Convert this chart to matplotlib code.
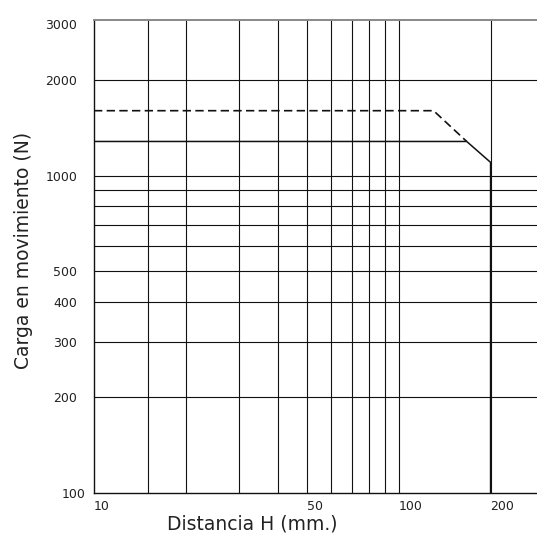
import matplotlib
matplotlib.use("Agg")
import matplotlib.pyplot as plt
from matplotlib.transforms import ScaledTranslation

# ─── data ────────────────────────────────────────────────────────────────────
# grid positions (log-log chart)
x_grid = [15, 20, 30, 40, 50, 60, 70, 80, 90, 100, 200]
y_grid = [200, 300, 400, 500, 600, 700, 800, 900, 1000, 2000]
x_ticks = [10, 50, 100, 200]
y_ticks = [100, 200, 300, 400, 500, 1000, 2000, 3000]

# load curves
dashed_x = [10, 130, 167]
dashed_y = [1600, 1600, 1280]
solid_x = [10, 167, 200, 200]
solid_y = [1280, 1280, 1100, 100]

plt.rcParams["font.family"] = ["DejaVu Sans"]

fig = plt.figure(figsize=(5.37, 5.40), dpi=100)
ax = fig.add_axes([94 / 537, 47 / 540, 443 / 537, 473.5 / 540])
ax.set_xscale("log")
ax.set_yscale("log")
ax.set_xlim(10, 284)
ax.set_ylim(100, 3100)

for xv in x_grid:
    ax.axvline(xv, color="#111111", lw=0.8, zorder=1)
for yv in y_grid:
    ax.axhline(yv, color="#111111", lw=0.8, zorder=1)

ax.plot(dashed_x, dashed_y, color="#111111", lw=1.2, dashes=(5, 2.6), zorder=3)
ax.plot(solid_x, solid_y, color="#111111", lw=1.1, zorder=3)

# axes frame
ax.spines["right"].set_visible(False)
ax.spines["top"].set_color("#888888")
ax.spines["top"].set_linewidth(1.4)
for s in ("left", "bottom"):
    ax.spines[s].set_color("#111111")
    ax.spines[s].set_linewidth(1.0)

ax.minorticks_off()
ax.set_xticks(x_ticks)
ax.set_xticklabels([str(v) for v in x_ticks], ha="left", fontsize=9, color="#222222")
ax.set_yticks(y_ticks)
ax.set_yticklabels([str(v) for v in y_ticks], fontsize=9, color="#222222")
ax.tick_params(axis="both", length=0)
ax.tick_params(axis="x", pad=5)
ax.tick_params(axis="y", pad=12)

# "100" sits closer to the corner, clear of the "10" below it
lab100 = ax.get_yticklabels()[0]
lab100.set_transform(lab100.get_transform() + ScaledTranslation(0.08, 0, fig.dpi_scale_trans))

ax.set_xlabel("Distancia H (mm.)", fontsize=13.5, color="#222222")
ax.xaxis.set_label_coords((252 - 94) / 443, -(514 - 493) / 473.5)
ax.set_ylabel("Carga en movimiento (N)", fontsize=13.5, color="#222222")
ax.yaxis.set_label_coords(-(94 - 33) / 443, (493 - 250) / 473.5)

fig.savefig("out.png", dpi=100)
